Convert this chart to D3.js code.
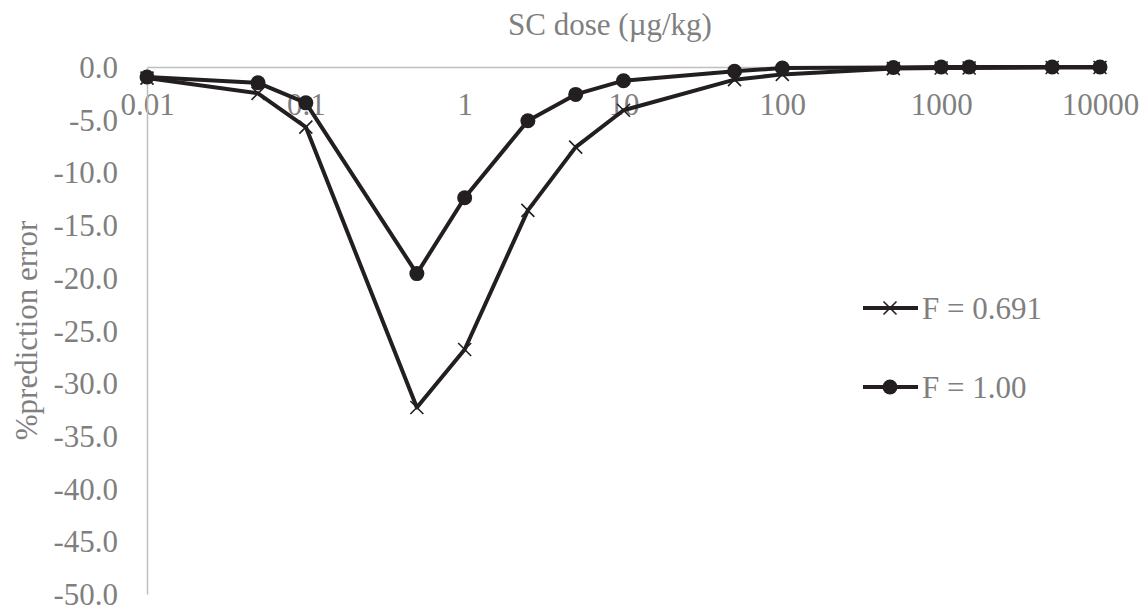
<!DOCTYPE html>
<html>
<head>
<meta charset="utf-8">
<script src="https://cdn.jsdelivr.net/npm/d3@7"></script>
<style>
  html, body { margin: 0; padding: 0; background: #ffffff; }
  svg { display: block; }
  text { font-family: "Liberation Serif", "Times New Roman", serif; fill: #7f7f7f; }
</style>
</head>
<body>
<svg id="chart" width="1148" height="615"></svg>
<script>
// SC doses (µg/kg) and % prediction error for the two bioavailability settings
const doses = [0.01, 0.05, 0.1, 0.5, 1, 2.5, 5, 10, 50, 100, 500, 1000, 1500, 5000, 10000];
const errF0691 = [-1.05, -2.5, -5.7, -32.3, -26.8, -13.6, -7.6, -4.1, -1.2, -0.7, -0.15, -0.1, -0.1, -0.05, -0.05];
const errF100 = [-0.95, -1.5, -3.4, -19.6, -12.4, -5.1, -2.6, -1.3, -0.4, -0.1, -0.05, 0, 0, 0, 0];
const seriesNames = ["F = 0.691", "F = 1.00"];
const xTicks = [0.01, 0.1, 1, 10, 100, 1000, 10000];
const yTicks = [0, -5, -10, -15, -20, -25, -30, -35, -40, -45, -50];

const svg = d3.select("#chart");
const ink = "#231f20";
const axisGrey = "#bfbfbf";
const fontSize = 31;

const x = d3.scaleLog().domain([0.01, 10000]).range([147, 1100]);
const y = d3.scaleLinear().domain([-50, 0]).range([594, 67]);

// axes: value axis on the left, dose axis running along the zero line
const xAxis = svg.append("g").attr("transform", `translate(0,${y(0)})`)
  .call(d3.axisBottom(x).tickValues(xTicks).tickSize(0).tickPadding(0)
    .tickFormat(d => String(d)));
xAxis.select(".domain").attr("stroke", axisGrey).attr("stroke-width", 1.5);
xAxis.selectAll("text")
  .attr("font-size", fontSize).attr("fill", "#7f7f7f")
  .attr("dy", null).attr("y", 48);

const yAxis = svg.append("g").attr("transform", `translate(${x(0.01)},0)`)
  .call(d3.axisLeft(y).tickValues(yTicks).tickSize(0).tickPadding(29)
    .tickFormat(d => d.toFixed(1)));
yAxis.select(".domain").attr("stroke", axisGrey).attr("stroke-width", 1.5);
yAxis.selectAll("text")
  .attr("font-size", fontSize).attr("fill", "#7f7f7f")
  .attr("dy", "0.34em");
svg.selectAll(".tick text").attr("font-family", "Liberation Serif, serif");

// axis titles
svg.append("text")
  .attr("x", 610).attr("y", 35)
  .attr("text-anchor", "middle")
  .attr("font-size", fontSize)
  .text("SC dose (µg/kg)");

svg.append("text")
  .attr("transform", `translate(37,${(y(0) + y(-50)) / 2}) rotate(-90)`)
  .attr("text-anchor", "middle")
  .attr("font-size", fontSize)
  .text("%prediction error");

const line = d3.line().x(d => x(d[0])).y(d => y(d[1]));

function crossPath(s) {
  return `M${-s},${-s}L${s},${s}M${-s},${s}L${s},${-s}`;
}

// F = 0.691 series with cross markers
const ptsA = doses.map((d, i) => [d, errF0691[i]]);
svg.append("path").datum(ptsA)
  .attr("d", line).attr("fill", "none")
  .attr("stroke", ink).attr("stroke-width", 4).attr("stroke-linejoin", "round");
svg.append("g").selectAll("path").data(ptsA).join("path")
  .attr("transform", d => `translate(${x(d[0])},${y(d[1])})`)
  .attr("d", crossPath(6.5)).attr("stroke", ink).attr("stroke-width", 1.6).attr("fill", "none");

// F = 1.00 series with filled circle markers
const ptsB = doses.map((d, i) => [d, errF100[i]]);
svg.append("path").datum(ptsB)
  .attr("d", line).attr("fill", "none")
  .attr("stroke", ink).attr("stroke-width", 4).attr("stroke-linejoin", "round");
svg.append("g").selectAll("circle").data(ptsB).join("circle")
  .attr("cx", d => x(d[0])).attr("cy", d => y(d[1]))
  .attr("r", 7.5).attr("fill", ink);

// legend
const legend = svg.append("g");
const rows = [{ name: seriesNames[0], yy: 308, mark: "cross" }, { name: seriesNames[1], yy: 387, mark: "circle" }];
rows.forEach(r => {
  legend.append("line").attr("x1", 863).attr("x2", 918).attr("y1", r.yy).attr("y2", r.yy)
    .attr("stroke", ink).attr("stroke-width", 4);
  if (r.mark === "cross") {
    legend.append("path").attr("transform", `translate(890,${r.yy})`)
      .attr("d", crossPath(6.5)).attr("stroke", ink).attr("stroke-width", 1.6);
  } else {
    legend.append("circle").attr("cx", 890).attr("cy", r.yy).attr("r", 7.5).attr("fill", ink);
  }
  legend.append("text").attr("x", 922).attr("y", r.yy).attr("dy", "0.34em")
    .attr("font-size", fontSize).text(r.name);
});
</script>
</body>
</html>
